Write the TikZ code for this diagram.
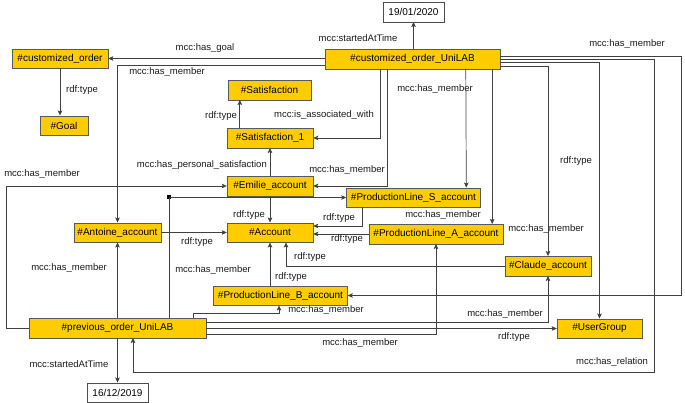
\documentclass[tikz,border=0pt]{standalone}
\usepackage{fontspec}
\setmainfont{Liberation Sans}
\usetikzlibrary{arrows.meta}
\definecolor{gold}{RGB}{255,204,0}
\begin{document}
\begin{tikzpicture}
[
x=1pt, y=-1pt,
Entity/.style={rectangle, draw=black!65, fill=gold, thin, inner sep=0pt, minimum height=19.5pt, font=\fontsize{10}{12}\selectfont},
Literal/.style={rectangle, draw=black!70, fill=white, thin, inner sep=0pt, minimum height=19.5pt, minimum width=61pt, font=\fontsize{10}{12}\selectfont},
Edge/.style={-{Stealth[length=5pt,width=4.5pt,inset=1pt]}, draw=black!75, line width=0.7pt},
Line/.style={draw=black!75, line width=0.7pt},
Label/.style={inner sep=0pt, text=black!90, font=\fontsize{9.5}{11}\selectfont},
Junction/.style={rectangle, fill=black, inner sep=0pt, minimum size=4pt},
]

\useasboundingbox (0,0) rectangle (685,403);

% literals
\node[Literal] (date1) at (413.5,12.0) {19/01/2020};
\node[Literal] (date2) at (117.5,392.5) {16/12/2019};

% orders
\node[Entity, minimum width=96pt]  (custorder) at ( 60.0, 58.5) {\#customized\_order};
\node[Entity, minimum width=175pt] (uniLAB)    at (412.5, 59.0) {\#customized\_order\_UniLAB};
\node[Entity, minimum width=177pt] (prev)      at (117.5,328.0) {\#previous\_order\_UniLAB};
\node[Entity, minimum width=48pt]  (goal)      at ( 64.0,125.5) {\#Goal};

% satisfaction
\node[Entity, minimum width=83pt] (satis)  at (269.5, 90.0) {\#Satisfaction};
\node[Entity, minimum width=86pt] (satis1) at (270.0,138.0) {\#Satisfaction\_1};

% accounts
\node[Entity, minimum width=86pt]  (emilie)    at (270.0,186.0) {\#Emilie\_account};
\node[Entity, minimum width=134pt] (plS)       at (413.5,197.5) {\#ProductionLine\_S\_account};
\node[Entity, minimum width=87pt]  (antoine)   at (117.5,232.5) {\#Antoine\_account};
\node[Entity, minimum width=86pt]  (account)   at (270.0,232.5) {\#Account};
\node[Entity, minimum width=134pt] (plA)       at (436.0,234.0) {\#ProductionLine\_A\_account};
\node[Entity, minimum width=86pt]  (claude)    at (548.0,266.0) {\#Claude\_account};
\node[Entity, minimum width=134pt] (plB)       at (280.5,295.5) {\#ProductionLine\_B\_account};
\node[Entity, minimum width=85pt]  (usergroup) at (599.5,328.5) {\#UserGroup};

\node[Junction] (junc) at (169,197.5) {};

% edges from customized_order_UniLAB
\draw[Edge] (uniLAB.north -| date1.south) -- (date1.south);
\draw[Edge] (uniLAB.west |- custorder.east) -- (custorder.east);
\draw[Edge] ([yshift=-6pt]uniLAB.west) -| (antoine.north);
\draw[Edge] ([xshift=56pt]uniLAB.south west) |- (satis1.east);
\draw[Edge] ([xshift=63pt]uniLAB.south west) |- (emilie.east);
\draw[Edge] ([xshift=141pt]uniLAB.south west) -- ([xshift=120pt]plS.north west);
\draw[Edge] ([xshift=-8pt]uniLAB.south east) -- ([xshift=-11pt]plA.north east);
\draw[Edge] ([yshift=3pt]uniLAB.east) -- ++(181,0) |- (plB.east);
\draw[Edge] (uniLAB.east) -- ++(154,0) -- ++(0,313) -| ([xshift=15.5pt]prev.south);
\draw[Edge] ([yshift=-3pt]uniLAB.east) -| (usergroup.north);
\draw[Edge] ([yshift=-7pt]uniLAB.east) -| (claude.north);

% edges from previous_order_UniLAB
\draw[Edge] (prev.south) -- (date2.north);
\draw[Edge] (prev.north) -- (antoine.south);
\draw[Edge] (prev.west) -- ++(-22,0) |- (emilie.west);
\draw[Line] (junc |- prev.north) -- (junc.center);
\draw[Edge] (junc.center) -- (plS.west);
\draw[Edge] ([xshift=-13pt]prev.north east) -- ++(0,-5) -| ([xshift=-1.5pt]plB.south);
\draw[Edge] ([yshift=6pt]prev.east) -| (claude.south);
\draw[Edge] (prev.east |- usergroup.west) -- (usergroup.west);
\draw[Edge] ([yshift=-6pt]prev.east) -| (plA.south);

% other edges
\draw[Edge] (custorder.south) -- (custorder.south |- goal.north);
\draw[Edge] ([xshift=13pt]satis1.north west) -- ([xshift=12pt]satis.south west);
\draw[Edge] (emilie.north) -- (satis1.south);
\draw[Edge] (emilie.south) -- (account.north);
\draw[Edge] (antoine.east) -- (account.west);
\draw[Edge] ([xshift=16pt]plS.south west) |- ([yshift=6.5pt]account.east);
\draw[Edge] (plA.west) -- (plA.west -| account.east);
\draw[Edge] (claude.west) -| ([xshift=16pt]account.south);
\draw[Edge] (account.south |- plB.north) -- (account.south);

% labels
\node[Label] (lTime1)   at (358,38)  {mcc:startedAtTime};
\node[Label] (lTime2)   at (69,364)  {mcc:startedAtTime};
\node[Label] (lGoal)    at (205,48)  {mcc:has\_goal};
\node[Label] (lAssoc)   at (324,115) {mcc:is\_associated\_with};
\node[Label, anchor=east] (lPers) at (267,165) {mcc:has\_personal\_satisfaction};
\node[Label] (lRel)     at (612,362) {mcc:has\_relation};

\node[Label] (lMem1)  at (167,72)  {mcc:has\_member};
\node[Label] (lMem2)  at (435,89)  {mcc:has\_member};
\node[Label] (lMem3)  at (347,170) {mcc:has\_member};
\node[Label] (lMem4)  at (42,174)  {mcc:has\_member};
\node[Label] (lMem5)  at (443,215) {mcc:has\_member};
\node[Label] (lMem6)  at (546,229) {mcc:has\_member};
\node[Label] (lMem7)  at (69,268)  {mcc:has\_member};
\node[Label] (lMem8)  at (213,270) {mcc:has\_member};
\node[Label] (lMem9)  at (326,310) {mcc:has\_member};
\node[Label] (lMem10) at (505,314) {mcc:has\_member};
\node[Label] (lMem11) at (360,343) {mcc:has\_member};
\node[Label] (lMem12) at (627,44)  {mcc:has\_member};

\node[Label] (lType1)  at (82,90)   {rdf:type};
\node[Label] (lType2)  at (221,116) {rdf:type};
\node[Label] (lType3)  at (249,215) {rdf:type};
\node[Label] (lType4)  at (339,218) {rdf:type};
\node[Label] (lType5)  at (347,239) {rdf:type};
\node[Label] (lType6)  at (310,257) {rdf:type};
\node[Label] (lType7)  at (291,277) {rdf:type};
\node[Label] (lType8)  at (197,242) {rdf:type};
\node[Label] (lType9)  at (576,161) {rdf:type};
\node[Label] (lType10) at (514,337) {rdf:type};

\end{tikzpicture}
\end{document}
